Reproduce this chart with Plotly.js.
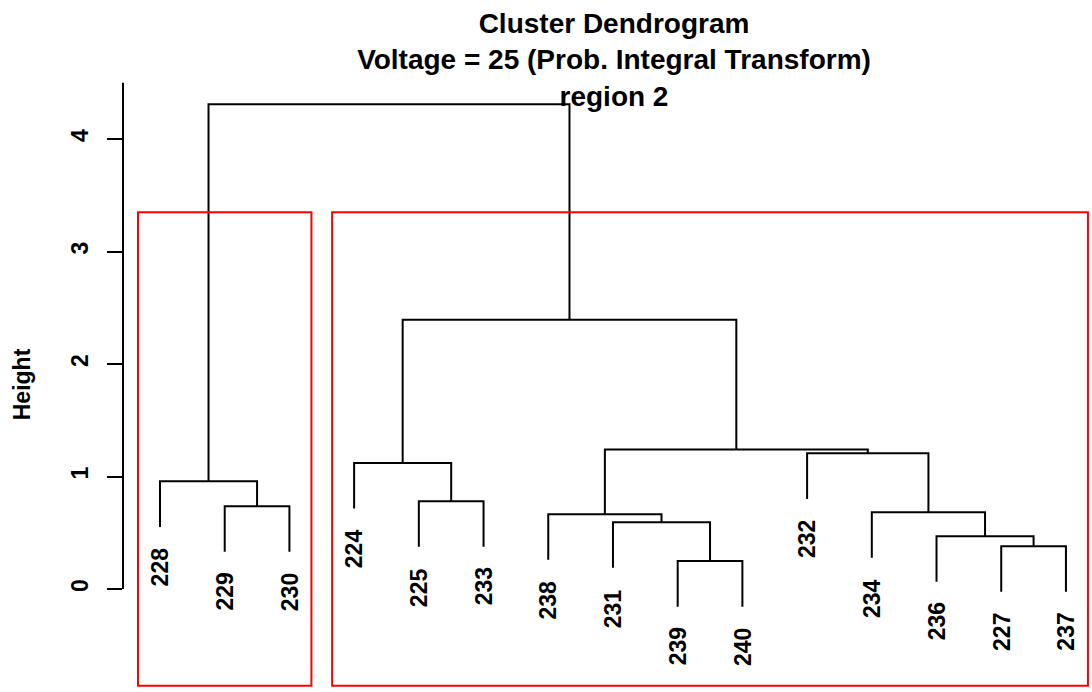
<!DOCTYPE html>
<html>
<head>
<meta charset="utf-8">
<script src="https://cdn.plot.ly/plotly-3.0.1.min.js"></script>
<style>html,body{margin:0;padding:0;background:#fff}#chart{width:1092px;height:692px}</style>
</head>
<body>
<div id="chart"></div>
<script>
// Leaf labels in dendrogram order (left to right)
const leafLabels = ['228','229','230','224','225','233','238','231','239','240','232','234','236','227','237'];
// Merge steps: negative = leaf (1-based index into leafLabels), positive = earlier merge (1-based)
const mergeLeft  = [-9, -14, -13, -8, -7, -12, -2, -5, -1, -4, -11, 5, 10, 9];
const mergeRight = [-10, -15, 2, 1, 4, 3, -3, -6, 7, 8, 6, 11, 12, 13];
const mergeHeight = [0.248, 0.381, 0.470, 0.594, 0.665, 0.683, 0.736, 0.780, 0.957, 1.120, 1.206, 1.241, 2.394, 4.310];
// Cluster boxes (rect.hclust, k = 2): first and last leaf position of each cluster
const boxFirst = [1, 4];
const boxLast = [3, 15];
const yTicks = [0, 1, 2, 3, 4];
const hang = 0.405;
const boxTop = 3.35, boxBottom = -0.86;

const FONT = 'Liberation Sans, Arial, sans-serif';
const centers = [];
const xs = [], ys = [];
function pos(id){ return id < 0 ? -id : centers[id-1]; }
function childH(id, parentH){ return id < 0 ? parentH - hang : mergeHeight[id-1]; }
const leafBottom = new Array(leafLabels.length).fill(0);
for (let i = 0; i < mergeHeight.length; i++) {
  const a = mergeLeft[i], b = mergeRight[i], h = mergeHeight[i];
  const xa = pos(a), xb = pos(b);
  centers.push((xa + xb) / 2);
  xs.push(xa, xa, xb, xb, null);
  ys.push(childH(a, h), h, h, childH(b, h), null);
  if (a < 0) leafBottom[-a-1] = h - hang;
  if (b < 0) leafBottom[-b-1] = h - hang;
}

const annotations = leafLabels.map((lab, i) => ({
  x: i + 1, y: leafBottom[i], xref: 'x', yref: 'y', text: '<b>' + lab + '</b>', showarrow: false,
  textangle: -90, xanchor: 'center', yanchor: 'top', yshift: -19,
  font: {family: FONT, size: 23, color: '#000'}
}));
annotations.push({
  text: '<b>Height</b>', xref: 'paper', yref: 'y', x: 0, y: 1.82, xanchor: 'center', yanchor: 'middle',
  xshift: -101, showarrow: false, textangle: -90,
  font: {family: FONT, size: 23, color: '#000'}
});

const shapes = boxFirst.map((f, i) => ({
  type: 'rect', xref: 'x', yref: 'y', x0: f - 0.34, x1: boxLast[i] + 0.34, y0: boxBottom, y1: boxTop,
  line: {color: '#ff0000', width: 2}, fillcolor: 'rgba(0,0,0,0)'
}));
shapes.push({type: 'line', xref: 'paper', yref: 'y', x0: 0, x1: 0, y0: 0, y1: 4.5, line: {color: '#000', width: 2}});

const pxPerUnitX = 64.71;
const plotLeft = 123;
const x0 = 1 - (160 - plotLeft) / pxPerUnitX;
const x1 = x0 + (1092 - plotLeft) / pxPerUnitX;
const pxPerUnitY = 112.5;
const y1 = 589 / pxPerUnitY;
const y0 = -(692 - 589) / pxPerUnitY;

Plotly.newPlot('chart', [{
  type: 'scatter', mode: 'lines', x: xs, y: ys, connectgaps: false,
  line: {color: '#000', width: 2}, hoverinfo: 'skip', showlegend: false
}], {
  width: 1092, height: 692,
  margin: {l: plotLeft, r: 0, t: 0, b: 0},
  paper_bgcolor: '#fff', plot_bgcolor: '#fff',
  title: {
    text: '<b>Cluster Dendrogram<br>Voltage = 25 (Prob. Integral Transform)<br>region 2</b>',
    xref: 'container', yref: 'container', x: 614/1092, xanchor: 'center', y: 1 - 33/692, yanchor: 'top',
    font: {family: FONT, size: 28, color: '#000'}
  },
  xaxis: {visible: false, range: [x0, x1], fixedrange: true},
  yaxis: {
    range: [y0, y1], tickvals: yTicks, ticktext: yTicks.map(v => '<b>' + v + '</b>'), ticks: 'outside', ticklen: 15,
    tickwidth: 2, tickcolor: '#000', showline: false, showgrid: false, zeroline: false, tickangle: -90,
    ticklabelstandoff: 10,
    tickfont: {family: FONT, size: 23, color: '#000'}
  },
  annotations: annotations, shapes: shapes
}, {staticPlot: true});
</script>
</body>
</html>
